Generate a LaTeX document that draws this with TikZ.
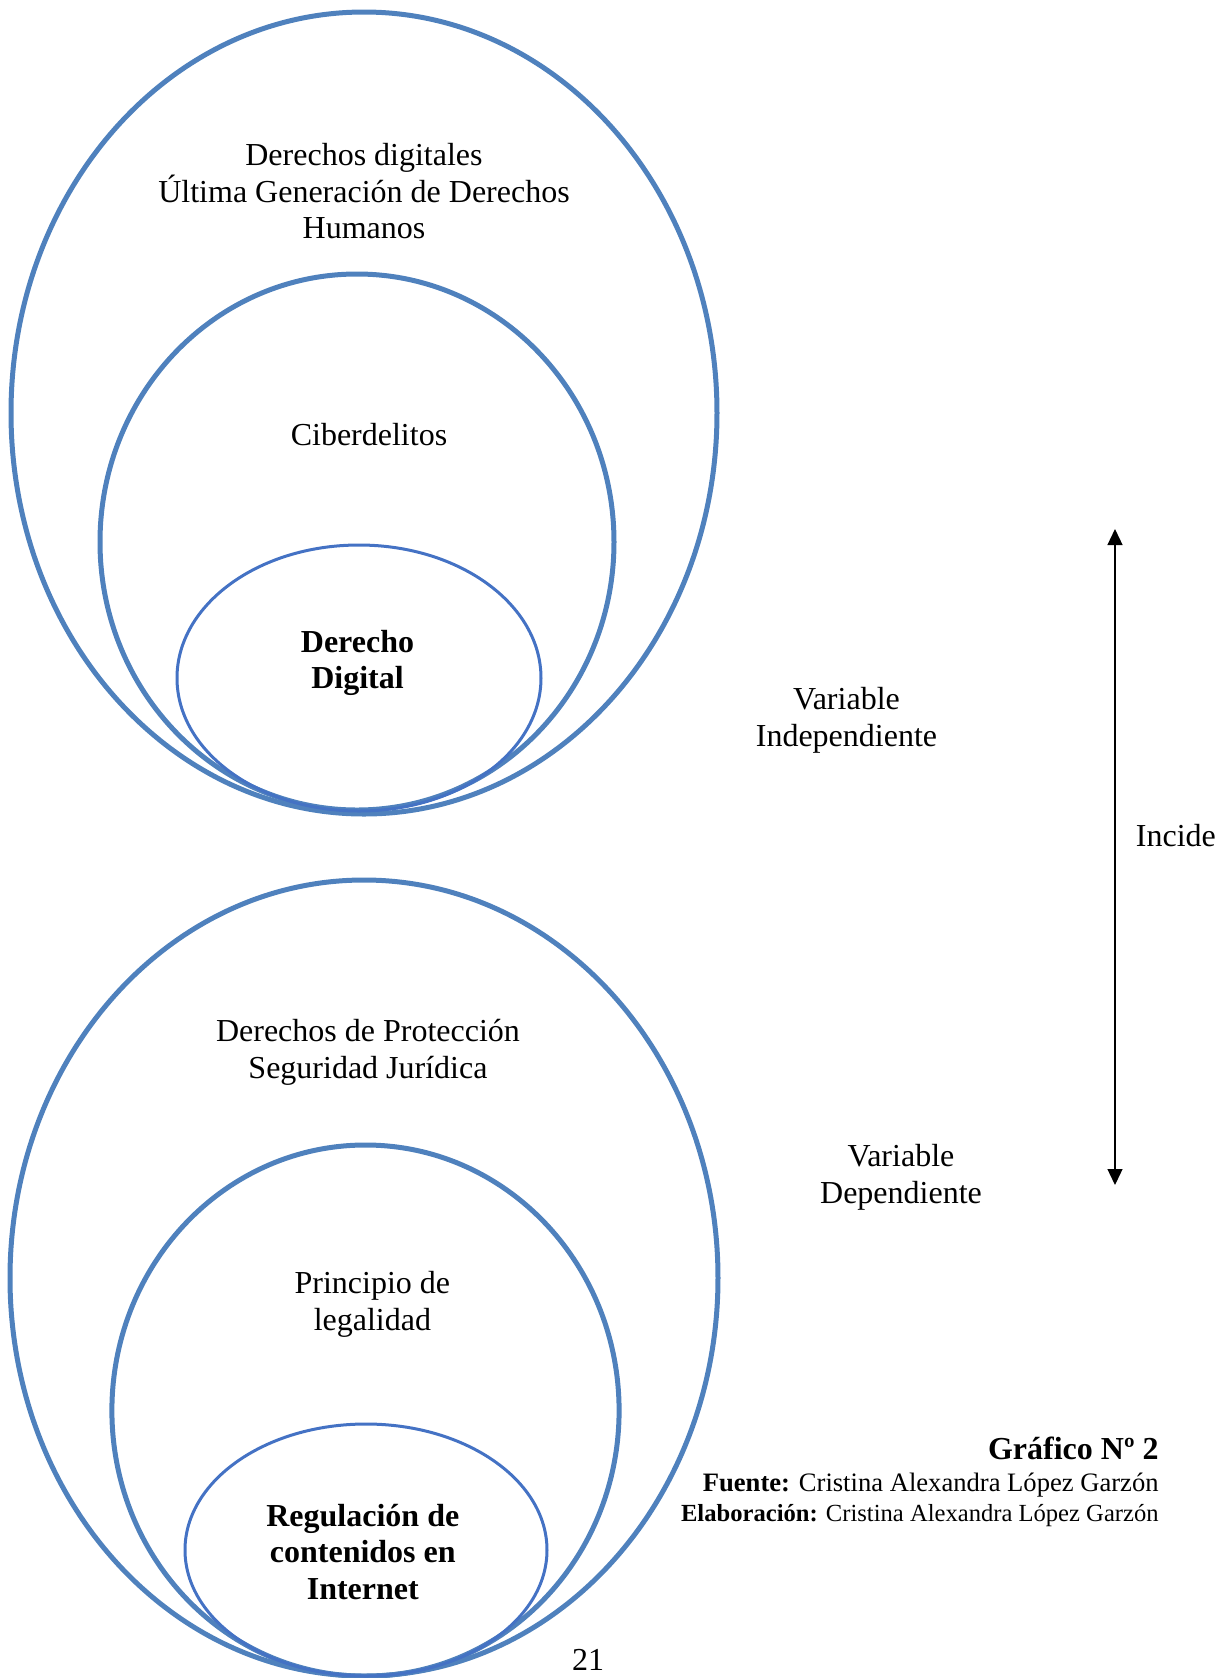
\documentclass[tikz,border=0pt]{standalone}
\usepackage{fontspec}
\setmainfont{Liberation Serif}
\usetikzlibrary{shapes.geometric,arrows.meta}
\definecolor{outerblue}{HTML}{4F81BD}
\definecolor{innerblue}{HTML}{4472C4}
\begin{document}
\begin{tikzpicture}[x=0.5pt,y=-0.5pt,
  ring/.style={ellipse,draw=outerblue,line width=2.5pt,inner sep=0pt,outer sep=0pt},
  core/.style={ellipse,draw=innerblue,line width=1.5pt,inner sep=0pt,outer sep=0pt},
  lbl/.style={align=center,inner sep=0pt,font=\fontsize{16pt}{18.25pt}\selectfont},
  blbl/.style={lbl,font=\fontsize{16pt}{18.25pt}\selectfont\bfseries},
  captxt/.style={anchor=base east,inner sep=0pt}]
\useasboundingbox (0,0) rectangle (1220,1678);
% top group
\node[ring,minimum width=353pt,minimum height=401pt] (t1) at (364,413) {};
\node[ring,minimum width=257pt,minimum height=268pt] (t2) at (357,542) {};
\node[core,minimum width=182pt,minimum height=133pt] (t3) at (359,678) {};
\node[lbl] (tt1) at (364,191.5) {Derechos digitales\\Última Generación de Derechos\\Humanos};
\node[lbl] (tt2) at (369,434.5) {Ciberdelitos};
\node[blbl] (tt3) at (357.5,663) {Derecho\\Digital};
% bottom group
\node[ring,minimum width=354pt,minimum height=398pt] (b1) at (364,1278) {};
\node[ring,minimum width=253.6pt,minimum height=265.6pt] (b2) at (365.5,1410.6) {};
\node[core,minimum width=181pt,minimum height=126pt] (b3) at (366,1550) {};
\node[lbl] (bt1) at (368,1052.5) {Derechos de Protección\\Seguridad Jurídica};
\node[lbl] (bt2) at (372.4,1304.5) {Principio de\\legalidad};
\node[blbl] (bt3) at (362.8,1552) {Regulación de\\contenidos en\\Internet};
% side labels
\node[lbl] (vi) at (846.5,720.5) {Variable\\Independiente};
\node[lbl] (vd) at (901,1177.5) {Variable\\Dependiente};
\coordinate (atop) at (1115,529);
\coordinate (abot) at (1115,1185);
\draw[line width=0.65pt,{Triangle[length=8pt,width=7.5pt]}-{Triangle[length=8pt,width=7.5pt]}] (atop) -- (abot);
\node[lbl,anchor=west] (inc) at (1135.5,836) {Incide};
% caption
\node[captxt,font=\fontsize{16pt}{18pt}\selectfont\bfseries] (g) at (1159,1459) {Gráfico Nº 2};
\node[captxt,font=\fontsize{13.3pt}{15pt}\selectfont] (f) at (1159,1491) {\textbf{Fuente:} Cristina Alexandra López Garzón};
\node[captxt,font=\fontsize{12.3pt}{14pt}\selectfont] (e) at (1159,1521.5) {\textbf{Elaboración:} Cristina Alexandra López Garzón};
\node[lbl] (pg) at (588,1660) {21};
\end{tikzpicture}
\end{document}
